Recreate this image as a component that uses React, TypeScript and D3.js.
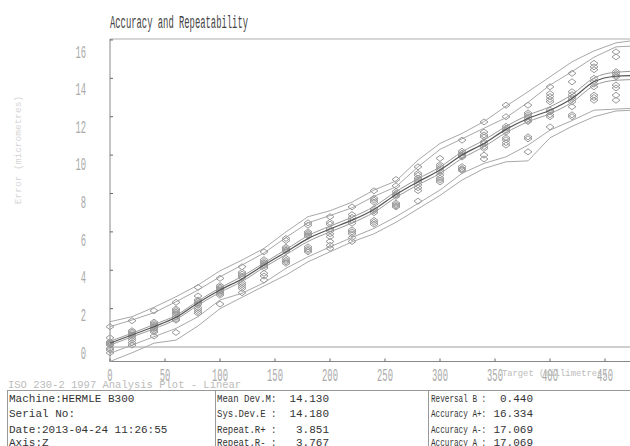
import React from 'react';
import * as d3 from 'd3';

// target positions (mm), the last one sits just past the right edge
const targets = [0, 20, 40, 60, 80, 100, 120, 140, 160, 180, 200, 220, 240, 260, 280, 300, 320, 340, 360, 380, 400, 420, 440, 460, 480];

// bidirectional mean and the two directional means (micrometres)
const meanDev = [0.2, 0.63, 1.06, 1.55, 2.3, 2.97, 3.55, 4.27, 4.95, 5.65, 6.15, 6.61, 7.17, 7.95, 8.61, 9.22, 10.0, 10.61, 11.34, 11.91, 12.34, 12.95, 13.82, 14.11, 14.15];
const fwdMean = [0.3, 0.72, 1.17, 1.65, 2.4, 3.08, 3.68, 4.38, 5.08, 5.8, 6.3, 6.76, 7.32, 8.1, 8.77, 9.38, 10.17, 10.78, 11.5, 12.08, 12.52, 13.15, 14.02, 14.32, 14.37];
const revMean = [0.1, 0.53, 0.95, 1.44, 2.18, 2.85, 3.42, 4.15, 4.82, 5.5, 6.0, 6.46, 7.02, 7.8, 8.45, 9.05, 9.83, 10.44, 11.17, 11.74, 12.16, 12.75, 13.62, 13.9, 13.94];

// +/- 2s envelopes
const upperF = [1.32, 1.58, 2.07, 2.62, 3.23, 3.97, 4.53, 5.14, 6.0, 6.79, 7.1, 7.55, 8.18, 8.65, 9.74, 10.61, 11.13, 11.75, 12.55, 13.3, 14.08, 14.86, 15.43, 15.85, 16.0];
const upperR = [1.06, 1.41, 1.79, 2.36, 2.97, 3.66, 4.27, 4.9, 5.71, 6.47, 6.85, 7.25, 7.85, 8.35, 9.39, 10.3, 10.85, 11.4, 11.95, 12.75, 13.65, 14.35, 15.1, 15.64, 15.7];
const lowerF = [-0.33, 0.1, 0.54, 0.97, 1.58, 2.45, 2.8, 3.35, 4.1, 4.7, 5.22, 5.71, 6.18, 6.79, 7.48, 8.18, 9.05, 9.57, 9.91, 10.52, 11.3, 11.8, 12.34, 12.4, 12.45];
const lowerR = [-0.75, -0.3, 0.2, 0.36, 1.1, 2.0, 2.59, 3.18, 3.75, 4.44, 4.96, 5.48, 5.9, 6.5, 7.2, 7.9, 8.7, 9.3, 9.65, 9.7, 10.9, 11.5, 12.0, 12.3, 12.35];

// individual readings per target (0 .. 460)
const readings = [
  [1.06, 0.48, 0.28, 0.2, 0.15, 0.1, -0.07, -0.15, -0.3, 0.22],
  [1.37, 0.85, 0.78, 0.7, 0.62, 0.55, 0.45, 0.35, 0.22, 0.1],
  [1.89, 1.3, 1.22, 1.15, 1.08, 1.0, 0.93, 0.85, 0.78, 0.57],
  [2.33, 1.98, 1.9, 1.82, 1.74, 1.65, 1.55, 1.45, 1.4, 0.76],
  [3.11, 2.66, 2.45, 2.38, 2.3, 2.22, 2.05, 1.95, 1.85, 1.76],
  [3.58, 3.2, 3.12, 3.05, 2.98, 2.92, 2.85, 2.78, 2.7, 2.24],
  [4.18, 3.9, 3.8, 3.7, 3.62, 3.35, 3.25, 3.15, 3.05, 2.83],
  [4.96, 4.55, 4.45, 4.38, 4.3, 4.22, 4.12, 3.84, 3.7, 3.49],
  [5.66, 5.55, 5.2, 5.12, 5.05, 4.98, 4.62, 4.52, 4.44, 4.36],
  [6.47, 6.35, 6.0, 5.92, 5.85, 5.78, 5.22, 5.12, 5.04, 4.96],
  [6.79, 6.5, 6.4, 6.15, 6.05, 5.9, 5.75, 5.5, 5.3, 5.14],
  [7.3, 6.9, 6.75, 6.6, 6.45, 6.1, 6.0, 5.9, 5.7, 5.5],
  [8.14, 7.75, 7.65, 7.55, 7.2, 7.1, 7.0, 6.6, 6.5, 6.4],
  [8.73, 8.4, 8.1, 8.0, 7.92, 7.85, 7.5, 7.42, 7.35, 7.3],
  [9.39, 9.05, 8.95, 8.8, 8.7, 8.6, 8.45, 8.3, 8.15, 7.6],
  [9.83, 9.5, 9.4, 9.3, 9.2, 9.1, 8.95, 8.8, 8.7, 8.6],
  [10.78, 10.2, 10.1, 10.0, 9.95, 9.9, 9.4, 9.3, 9.25, 9.2],
  [11.73, 11.2, 11.05, 10.95, 10.7, 10.6, 10.45, 10.35, 10.0, 9.8],
  [12.6, 12.0, 11.5, 11.4, 11.3, 11.2, 10.9, 10.8, 10.65, 10.52],
  [12.6, 12.2, 12.1, 12.0, 11.9, 11.8, 11.75, 10.95, 10.85, 10.17],
  [13.56, 13.2, 13.05, 12.9, 12.78, 12.35, 12.25, 12.1, 12.0, 11.47],
  [14.26, 13.82, 13.3, 13.15, 13.0, 12.9, 12.78, 12.52, 12.1, 12.0],
  [14.78, 14.6, 14.45, 14.0, 13.85, 13.7, 13.56, 13.12, 13.0, 12.86],
  [15.38, 15.12, 14.35, 14.25, 14.15, 14.08, 13.65, 13.5, 13.12, 12.86],
];

const xTicks = [0, 50, 100, 150, 200, 250, 300, 350, 400, 450];
const yTicks = [0, 2, 4, 6, 8, 10, 12, 14, 16];

const infoCol1 = ['Machine:HERMLE B300', 'Serial No:', 'Date:2013-04-24 11:26:55', 'Axis:Z'];
const infoLabels2 = ['Mean Dev.M:', 'Sys.Dev.E :', 'Repeat.R+ :', 'Repeat.R- :'];
const infoValues2 = ['14.130', '14.180', '3.851', '3.767'];
const infoLabels3 = ['Reversal B :', 'Accuracy A+:', 'Accuracy A-:', 'Accuracy A :'];
const infoValues3 = ['0.440', '16.334', '17.069', '17.069'];

const mono = '"Liberation Mono", "DejaVu Sans Mono", monospace';

export default function App() {
  const width = 630;
  const height = 446;

  const x = d3.scaleLinear().domain([0, 480]).range([110, 638]);
  const y = d3.scaleLinear().domain([-0.78, 16.05]).range([362, 39]);
  // the tick labels drift slightly from the ticks in the original
  const yLab = d3.scaleLinear().domain([0, 16]).range([352, 51]);

  const smooth = d3.line<number>()
    .x((d, i) => x(targets[i]))
    .y(d => y(d))
    .curve(d3.curveMonotoneX);
  const straight = d3.line<number>()
    .x((d, i) => x(targets[i]))
    .y(d => y(d));

  const diamond = 'M0,-3 L4,0 L0,3 L-4,0 Z';
  const rowY = [401.5, 417, 432.5, 446];

  return (
    <svg width={width} height={height} style={{ position: 'absolute', left: 0, top: 0, background: '#fff' }}>
      <defs>
        <clipPath id="plot">
          <rect x={100} y={30} width={530} height={340} />
        </clipPath>
      </defs>

      <text x={110} y={28} fontFamily={mono} fontSize={19} fill="#444" textLength={138} lengthAdjust="spacingAndGlyphs">
        Accuracy and Repeatability
      </text>

      {/* reference lines */}
      <line x1={110} x2={630} y1={y(16.05)} y2={y(16.05)} stroke="#c8c8c8" strokeWidth={1.5} />
      <line x1={110} x2={630} y1={y(0)} y2={y(0)} stroke="#cfcfcf" strokeWidth={2} />

      {/* axes */}
      <line x1={110} x2={110} y1={39} y2={362} stroke="#888" />
      <line x1={110} x2={630} y1={361.5} y2={361.5} stroke="#888" />
      {yTicks.map(t => (
        <g key={'y' + t}>
          <line x1={110} x2={113} y1={y(t)} y2={y(t)} stroke="#666" />
          <text x={86} y={yLab(t) + 6.5} textAnchor="end" fontFamily={mono} fontSize={18} fill="#aaa"
            textLength={String(t).length * 5.3} lengthAdjust="spacingAndGlyphs">{t}</text>
        </g>
      ))}
      {xTicks.map(t => (
        <g key={'x' + t}>
          <line x1={x(t)} x2={x(t)} y1={361.5} y2={358.5} stroke="#666" />
          <text x={x(t)} y={381} textAnchor="middle" fontFamily={mono} fontSize={18} fill="#aaa"
            textLength={String(t).length * 5.3} lengthAdjust="spacingAndGlyphs">{t}</text>
        </g>
      ))}

      <text transform="translate(21,150) rotate(-90)" textAnchor="middle" fontFamily={mono} fontSize={9.5} fill="#d6d6d6">
        Error (micrometres)
      </text>
      <text x={502} y={376} fontFamily={mono} fontSize={8.8} fill="#bbb">Target (millimetres)</text>

      <g clipPath="url(#plot)" fill="none">
        {[upperF, upperR, lowerF, lowerR].map((s, i) => (
          <path key={'env' + i} d={straight(s) || ''} stroke="#a8a8a8" strokeWidth={1} />
        ))}
        {readings.map((vals, i) =>
          vals.map((v, j) => (
            <path key={i + '-' + j} d={diamond} transform={`translate(${x(targets[i])},${y(v)})`}
              stroke="#999" strokeWidth={1} />
          ))
        )}
        <path d={smooth(fwdMean) || ''} stroke="#999" strokeWidth={1} />
        <path d={smooth(revMean) || ''} stroke="#999" strokeWidth={1} />
        <path d={smooth(meanDev) || ''} stroke="#555" strokeWidth={1.2} />
      </g>

      <text x={8} y={388} fontFamily={mono} fontSize={10.5} fill="#bbb">ISO 230-2 1997 Analysis Plot - Linear</text>

      {/* info table */}
      <g stroke="#999" strokeWidth={1}>
        <line x1={7} x2={630} y1={390.5} y2={390.5} />
        <line x1={7.5} x2={7.5} y1={390.5} y2={446} />
        <line x1={215.5} x2={215.5} y1={390.5} y2={446} />
        <line x1={428.5} x2={428.5} y1={390.5} y2={446} />
      </g>
      <g fontFamily={mono} fontSize={11} fill="#333">
        {infoCol1.map((s, i) => <text key={'a' + i} x={9} y={rowY[i]}>{s}</text>)}
        {infoLabels2.map((s, i) => (
          <text key={'b' + i} x={217} y={rowY[i]} textLength={s.length * 5.4} lengthAdjust="spacingAndGlyphs">{s}</text>
        ))}
        {infoValues2.map((s, i) => <text key={'c' + i} x={329} y={rowY[i]} textAnchor="end">{s}</text>)}
        {infoLabels3.map((s, i) => (
          <text key={'d' + i} x={431} y={rowY[i]} textLength={s.length * 4.6} lengthAdjust="spacingAndGlyphs">{s}</text>
        ))}
        {infoValues3.map((s, i) => <text key={'e' + i} x={533} y={rowY[i]} textAnchor="end">{s}</text>)}
      </g>
    </svg>
  );
}
